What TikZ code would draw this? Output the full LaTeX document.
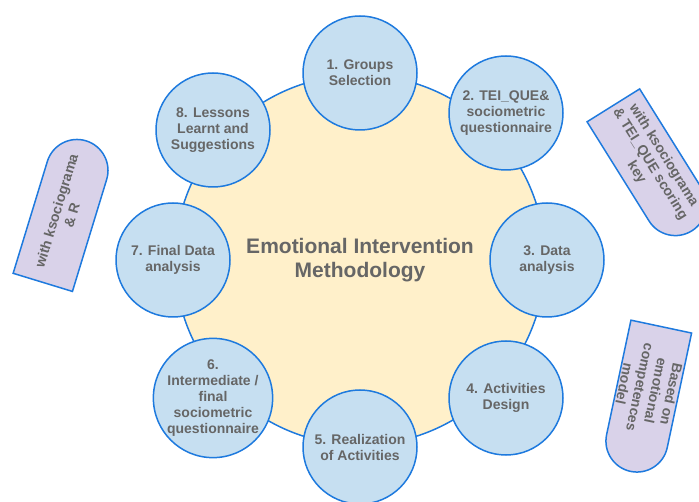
\documentclass[tikz,border=0pt]{standalone}
\usepackage{fontspec}
\setmainfont{Liberation Sans}
\usepackage{tikz}
\usetikzlibrary{shapes.misc}
\definecolor{ringblue}{RGB}{30,122,222}
\definecolor{stagefill}{RGB}{198,223,241}
\definecolor{corefill}{RGB}{255,240,202}
\definecolor{notefill}{RGB}{217,210,233}
\definecolor{labelgray}{RGB}{102,102,102}

\begin{document}
\begin{tikzpicture}[x=1pt, y=-1pt,
    core/.style={circle, draw=ringblue, line width=1.5pt, fill=corefill, minimum size=370pt,
                 align=center, text=labelgray, font=\fontsize{21}{24}\selectfont\bfseries},
    stage/.style={circle, draw=ringblue, line width=1.5pt, fill=stagefill, minimum size=114pt,
                  inner sep=0pt, align=center, text=labelgray, font=\fontsize{14}{16}\selectfont\bfseries},
    note/.style={rounded rectangle, rounded rectangle west arc=none, draw=ringblue, line width=1.5pt,
                 fill=notefill, minimum width=148pt, minimum height=62pt, inner sep=0pt,
                 align=center, text=labelgray, font=\fontsize{14}{16}\selectfont\bfseries}
]
    \useasboundingbox (0,0) rectangle (699,502);

    \node[core] (method) at (360,260) {Emotional Intervention\\Methodology};

    \node[stage] (groups) at (360,73) {1. Groups\\Selection};
    \node[stage] (teique) at (506,113) {2. TEI\_QUE\&\\sociometric\\questionnaire};
    \node[stage] (analysis) at (547,260) {3. Data\\analysis};
    \node[stage] (design) at (506,398) {4. Activities\\Design};
    \node[stage] (realize) at (360,447) {5. Realization\\of Activities};
    \node[stage] (midfinal) at (213,398) {6.\\Intermediate /\\final\\sociometric\\questionnaire};
    \node[stage] (finaldata) at (173,260) {7. Final Data\\analysis};
    \node[stage] (lessons) at (213,130) {8. Lessons\\Learnt and\\Suggestions};

    % side notes
    \node[note, rotate=-58] (scoring) at (650,164) {with ksociograma\\\& TEI\_QUE scoring\\key};
    \node[note, rotate=-102] (model) at (648,389) {Based on\\emotional\\competences\\model};
    \node[note, rotate=73] (rtool) at (64,213) {with ksociograma\\\& R};
\end{tikzpicture}
\end{document}
